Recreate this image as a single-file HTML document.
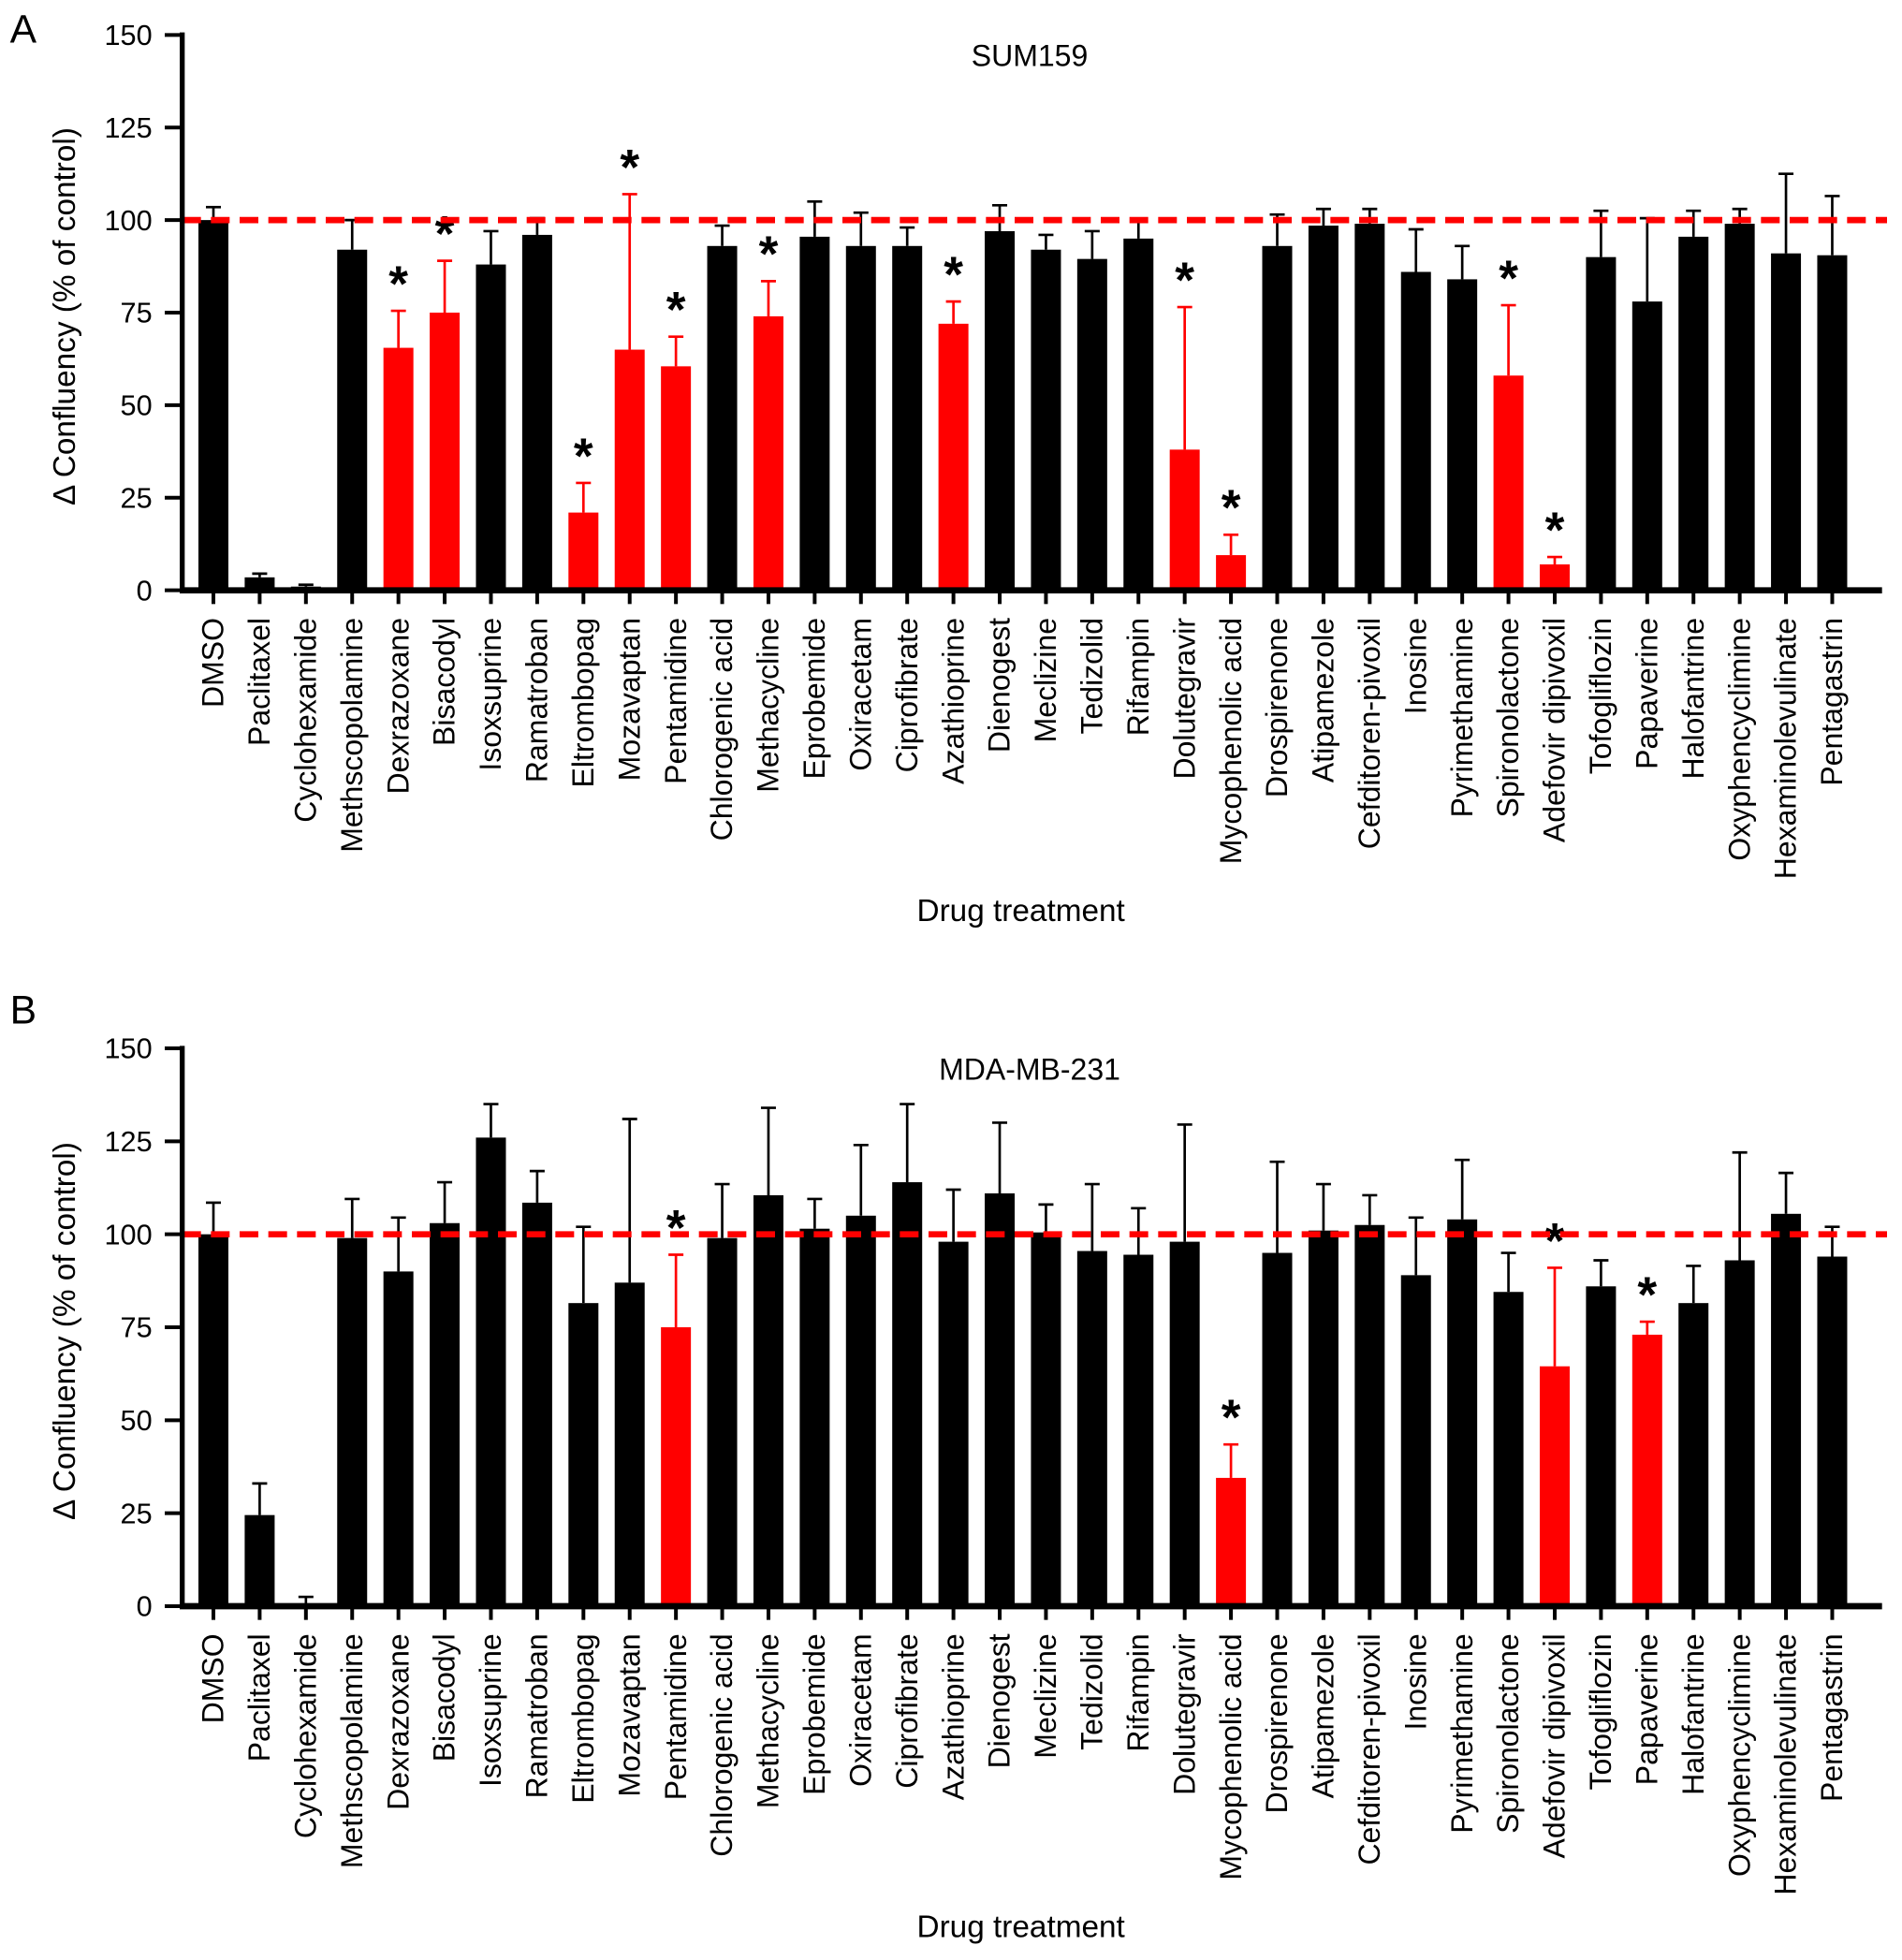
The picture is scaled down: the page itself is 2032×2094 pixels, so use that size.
<!DOCTYPE html>
<html><head><meta charset="utf-8"><style>
html,body{margin:0;padding:0;background:#fff}
svg{display:block}
text{font-family:"Liberation Sans",Arial,sans-serif}
</style></head><body>
<svg id="chart" width="2032" height="2094" viewBox="0 0 1524 1570.5" xmlns="http://www.w3.org/2000/svg">
<text x="8" y="34" font-size="32">A</text>
<text x="8" y="820" font-size="32">B</text>
</svg>
<script>
const drugs=["DMSO","Paclitaxel","Cyclohexamide","Methscopolamine","Dexrazoxane","Bisacodyl","Isoxsuprine","Ramatroban","Eltrombopag","Mozavaptan","Pentamidine","Chlorogenic acid","Methacycline","Eprobemide","Oxiracetam","Ciprofibrate","Azathioprine","Dienogest","Meclizine","Tedizolid","Rifampin","Dolutegravir","Mycophenolic acid","Drospirenone","Atipamezole","Cefditoren-pivoxil","Inosine","Pyrimethamine","Spironolactone","Adefovir dipivoxil","Tofogliflozin","Papaverine","Halofantrine","Oxyphencyclimine","Hexaminolevulinate","Pentagastrin"];
const yTicks=[0,25,50,75,100,125,150];
const sumValues=[100,3.5,1,92,65.5,75,88,96,21,65,60.5,93,74,95.5,93,93,72,97,92,89.5,95,38,9.5,93,98.5,99,86,84,58,7,90,78,95.5,99,91,90.5];
const sumErrTop=[103.5,4.5,1.5,100,75.5,89,97,100.5,29,107,68.5,98.5,83.5,105,102,98,78,104,96,97,100,76.5,15,101.5,103,103,97.5,93,77,9,102.5,100.5,102.5,103,112.5,106.5];
const sumSignificant=[0,0,0,0,1,1,0,0,1,1,1,0,1,0,0,0,1,0,0,0,0,1,1,0,0,0,0,0,1,1,0,0,0,0,0,0];
const mdaValues=[100,24.5,0.5,99,90,103,126,108.5,81.5,87,75,99,110.5,101.5,105,114,98,111,100.5,95.5,94.5,98,34.5,95,101,102.5,89,104,84.5,64.5,86,73,81.5,93,105.5,94];
const mdaErrTop=[108.5,33,2.5,109.5,104.5,114,135,117,102,131,94.5,113.5,134,109.5,124,135,112,130,108,113.5,107,129.5,43.5,119.5,113.5,110.5,104.5,120,95,91,93,76.5,91.5,122,116.5,102];
const mdaSignificant=[0,0,0,0,0,0,0,0,0,0,1,0,0,0,0,0,0,0,0,0,0,0,1,0,0,0,0,0,0,1,0,1,0,0,0,0];

const NS="http://www.w3.org/2000/svg";
const svg=document.getElementById('chart');
function mk(tag,attrs,parent,txt){const e=document.createElementNS(NS,tag);for(const k in attrs)e.setAttribute(k,attrs[k]);if(txt!=null)e.textContent=txt;parent.appendChild(e);return e;}

function panel(key,title,y0,y150,vals,errs,sig){
  const g=mk('g',{},svg);
  
  
  const axX=146,x0=171,step=37.06,bw=24;
  const y=v=>y0-(y0-y150)*v/150;
  const x=i=>x0+i*step;
  vals.forEach((v,i)=>{
    const col=sig[i]?'#ff0000':'#000';
    const eb=mk('line',{x1:x(i),x2:x(i),y1:y(v),y2:y(errs[i]),stroke:col,'stroke-width':2},g);
    
    
    const cap=mk('line',{x1:x(i)-6,x2:x(i)+6,y1:y(errs[i]),y2:y(errs[i]),stroke:col,'stroke-width':2},g);
    
    
    const r=mk('rect',{x:x(i)-bw/2,y:y(v),width:bw,height:y0-y(v),fill:col},g);
    
    
    if(sig[i]){
      const s=mk('text',{x:x(i),y:y(errs[i])-8,'font-size':40,'font-weight':'bold','text-anchor':'middle'},g,'*');
      
      
    }
    const t=mk('line',{x1:x(i),x2:x(i),y1:y0,y2:y0+11,stroke:'#000','stroke-width':3},g);
    
    
    const lb=mk('text',{transform:`translate(${x(i)+8},${y0+22}) rotate(-90)`,'font-size':24,'text-anchor':'end'},g,drugs[i]);
    
    
  });
  const d=mk('line',{x1:axX,x2:1512,y1:y(100),y2:y(100),stroke:'#ff0000','stroke-width':5,'stroke-dasharray':'15,8'},g);
  
  
  const ya=mk('line',{x1:axX,x2:axX,y1:y(150)-2,y2:y0+2,stroke:'#000','stroke-width':4},g);
  
  
  const xa=mk('line',{x1:axX-2,x2:1508,y1:y0,y2:y0,stroke:'#000','stroke-width':5},g);
  
  
  yTicks.forEach(v=>{
    const t=mk('line',{x1:axX-14,x2:axX,y1:y(v),y2:y(v),stroke:'#000','stroke-width':3},g);
    
    
    const l=mk('text',{x:axX-24,y:y(v)+8,'font-size':23,'text-anchor':'end'},g,String(v));
    
    
  });
  const tt=mk('text',{x:825,y:y150+25,'font-size':24,'text-anchor':'middle'},g,title);
  
  
  const yt=mk('text',{transform:`translate(60,${(y0+y150)/2+3}) rotate(-90)`,'font-size':25,'text-anchor':'middle'},g,'Δ Confluency (% of control)');
  
  
  const xt=mk('text',{x:818,y:y0+265,'font-size':25,'text-anchor':'middle'},g,'Drug treatment');
  
  
}
panel('sum159','SUM159',473,28,sumValues,sumErrTop,sumSignificant);
panel('mda-mb-231','MDA-MB-231',1287,840,mdaValues,mdaErrTop,mdaSignificant);
</script>
</body></html>
